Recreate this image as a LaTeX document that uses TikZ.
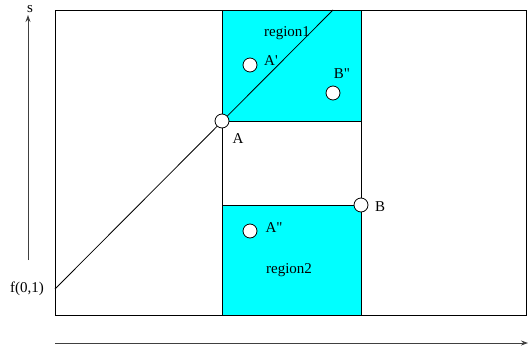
\documentclass[tikz,border=0pt]{standalone}
\usepackage{fontspec}
\setmainfont{Liberation Serif}[Ligatures=TeXOff]
\usetikzlibrary{arrows.meta}
\definecolor{cy}{RGB}{0,255,255}
\begin{document}
\begin{tikzpicture}[x=1pt,y=-1pt,
  pt/.style={circle,draw,fill=white,inner sep=0pt,minimum size=14pt,line width=0.8pt},
  lbl/.style={inner sep=0pt,font=\fontsize{15}{17}\selectfont},
  ln/.style={line width=0.8pt},
  ax/.style={line width=0.9pt,black!75,-{Stealth[length=7pt,width=5pt]}}]
\useasboundingbox (0,0) rectangle (529,351);
% regions
\fill[cy] (222,10) rectangle (361,121);
\fill[cy] (222,205) rectangle (361,315);
% outer frame
\draw[ln] (55,10) rectangle (526,315);
% column
\draw[ln] (222,10) -- (222,315);
\draw[ln] (361,10) -- (361,315);
\draw[ln] (222,121) -- (361,121);
\draw[ln] (222,205) -- (361,205);
% diagonal
\coordinate (f) at (55,289);
\coordinate (t) at (333,10);
\draw[ln] (f) -- (t);
% axes
\coordinate (s0) at (28,260);
\coordinate (s1) at (28,15);
\draw[ax] (s0) -- (s1);
\coordinate (h0) at (55,343);
\coordinate (h1) at (528,343);
\draw[ax] (h0) -- (h1);
% points
\node[pt] (A) at (222,121) {};
\node[pt] (B) at (361,205) {};
\node[pt] (Ap) at (250,65) {};
\node[pt] (Bpp) at (333,93) {};
\node[pt] (App) at (250,231) {};
% labels
\node[lbl,anchor=base] (ls) at (30,12) {s};
\node[lbl] (lf) at (27,289) {f(0,1)};
\node[lbl] (lr1) at (287,33) {region1};
\node[lbl] (lr2) at (289,270) {region2};
\node[lbl] (lA) at (238,139) {A};
\node[lbl] (lB) at (380,207) {B};
\node[lbl] (lAp) at (271,61) {A'};
\node[lbl] (lBpp) at (342,74) {B"};
\node[lbl] (lApp) at (274,228) {A"};
\end{tikzpicture}
\end{document}
